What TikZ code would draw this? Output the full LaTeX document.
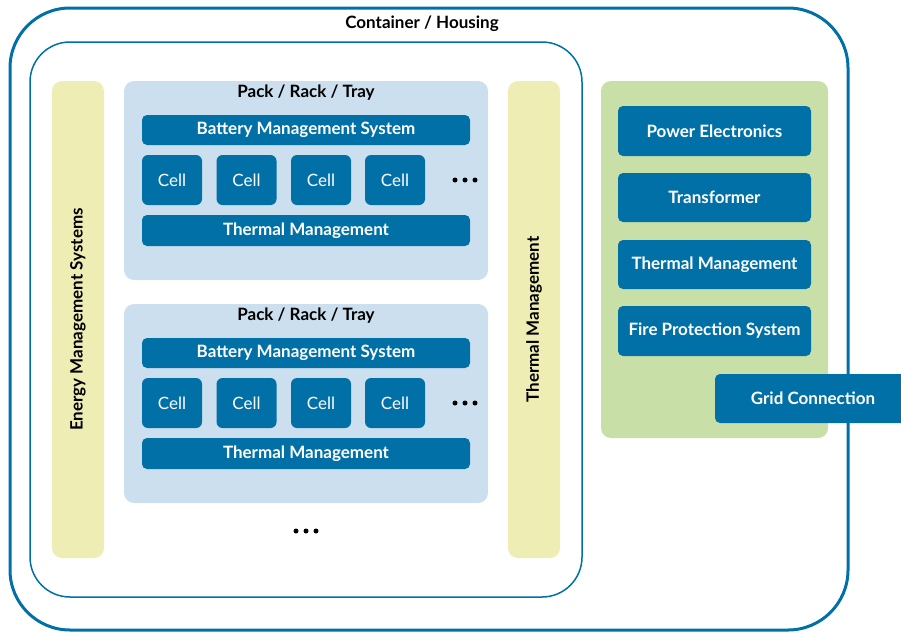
\documentclass[tikz,border=0pt]{standalone}
\usepackage{fontspec}
\setmainfont{Lato}
\usetikzlibrary{positioning}

\definecolor{boxblue}{RGB}{0,112,167}
\definecolor{packblue}{RGB}{204,223,238}
\definecolor{baryellow}{RGB}{238,238,180}
\definecolor{sidegreen}{RGB}{201,223,168}

\tikzset{
    blk/.style={fill=boxblue, rounded corners=5pt, text=white, font=\bfseries\fontsize{17}{20}\selectfont, inner sep=0pt},
    cellbox/.style={fill=boxblue, rounded corners=6pt, text=white, font=\fontsize{17}{20}\selectfont, minimum width=60pt, minimum height=50pt, inner sep=0pt},
    packbox/.style={fill=packblue, rounded corners=10pt, minimum width=364pt, minimum height=199pt, inner sep=0pt},
    ybar/.style={fill=baryellow, rounded corners=10pt, minimum width=52pt, minimum height=477pt, inner sep=0pt},
    ttl/.style={font=\bfseries\fontsize{17}{20}\selectfont, text=black},
    dotsym/.style={circle, fill=black, inner sep=0pt, minimum size=5pt}
}

\begin{document}
\begin{tikzpicture}[x=1pt, y=-1pt]
    \useasboundingbox (0,0) rectangle (901,632);
    % housing
    \draw[boxblue, line width=3pt, rounded corners=60pt] (10,8) rectangle (848,630);
    \node[ttl] (housing) at (422,24) {Container / Housing};
    \draw[boxblue, line width=1.5pt, rounded corners=40pt] (30,42) rectangle (582,597);
    % side bars
    \node[ybar] (ems) at (78,319.5) {};
    \node[ttl, rotate=90] at (ems) {Energy Management Systems};
    \node[ybar] (tmbar) at (534,319.5) {};
    \node[ttl, rotate=90] at (tmbar) {Thermal Management};
    % packs
    \foreach \p/\yy in {1/0, 2/223} {
        \pgfmathsetmacro{\ytop}{81+\yy}
        \node[packbox] (pack\p) at (306,\ytop+99.5) {};
        \node[ttl] (packtitle\p) at (306,\ytop+12) {Pack / Rack / Tray};
        \node[blk, minimum width=328pt, minimum height=30pt] (bms\p) at (306,\ytop+49) {Battery Management System};
        \foreach \c/\cx in {1/172, 2/246.5, 3/321, 4/395} {
            \node[cellbox] (cell\p\c) at (\cx,\ytop+99) {Cell};
        }
        \foreach \d in {-10,0,10} {
            \node[dotsym] at (465+\d,\ytop+99) {};
        }
        \node[blk, minimum width=328pt, minimum height=31pt] (tm\p) at (306,\ytop+149.5) {Thermal Management};
    }
    \foreach \d in {-10,0,10} {
        \node[dotsym] at (306+\d,531) {};
    }
    % power side
    \node[fill=sidegreen, rounded corners=10pt, minimum width=227pt, minimum height=357pt, inner sep=0pt] (power) at (714.5,259.5) {};
    \node[blk, minimum width=193pt, minimum height=50pt] (pe) at (714.5,131) {Power Electronics};
    \node[blk, minimum width=193pt, minimum height=49pt] (trafo) at (714.5,197.5) {Transformer};
    \node[blk, minimum width=193pt, minimum height=49pt] (tmside) at (714.5,264.5) {Thermal Management};
    \node[blk, minimum width=193pt, minimum height=50pt] (fire) at (714.5,331) {Fire Protection System};
    \node[blk, minimum width=196pt, minimum height=49pt] (grid) at (813,398.5) {Grid Connection};
\end{tikzpicture}
\end{document}
